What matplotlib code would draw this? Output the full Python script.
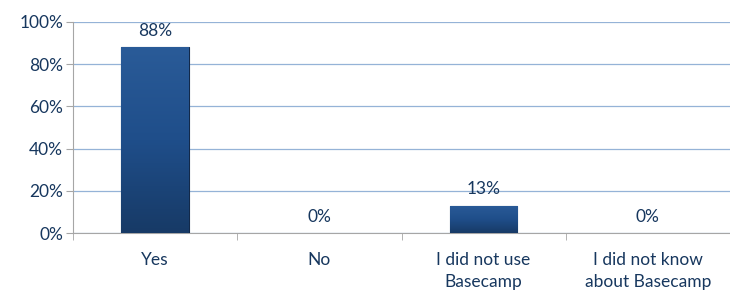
import numpy as np
import matplotlib.pyplot as plt

categories = ["Yes", "No", "I did not use\nBasecamp", "I did not know\nabout Basecamp"]
values = [0.88, 0.0, 0.13, 0.0]
labels = ["88%", "0%", "13%", "0%"]
yticks = [0, 0.2, 0.4, 0.6, 0.8, 1.0]
yticklabels = ["0%", "20%", "40%", "60%", "80%", "100%"]

text_color = "#17375E"
grid_color = "#95B3D7"
axis_color = "#A6A6A6"

plt.rcParams['font.family'] = ['Lato', 'DejaVu Sans']

fig = plt.figure(figsize=(7.3, 2.91), dpi=100)
ax = fig.add_axes([0.1, 0.1993, 0.9, 0.7251])

x = np.arange(len(categories))
bars = ax.bar(x, values, width=0.41, color="#1F4E86", edgecolor="#12294A", linewidth=0.8, zorder=3)

# simple vertical gradient inside each bar
grad = np.linspace(0, 1, 256).reshape(-1, 1)
cmap = plt.matplotlib.colors.LinearSegmentedColormap.from_list("b", ["#173A66", "#1F4E8A", "#2A5B98"])
for b in bars:
    if b.get_height() <= 0:
        b.set_visible(False)
        continue
    im = ax.imshow(grad, cmap=cmap, aspect="auto", origin="lower",
                   extent=[b.get_x(), b.get_x() + b.get_width(), 0, b.get_height()], zorder=3)
    im.set_clip_path(b)

for xi, v, lab in zip(x, values, labels):
    ax.text(xi, v + 0.04, lab, ha="center", va="bottom", fontsize=12.5, color=text_color, zorder=4)

ax.set_xlim(-0.5, len(categories) - 0.5)
ax.set_ylim(0, 1)
ax.set_yticks(yticks)
ax.set_yticklabels(yticklabels, fontsize=12.5, color=text_color)
ax.set_xticks(x)
ax.set_xticklabels(categories, fontsize=12.5, color=text_color, linespacing=1.4)
ax.tick_params(axis="x", length=0, pad=14)
ax.set_xticks(np.arange(len(categories) + 1) - 0.5, minor=True)
ax.tick_params(axis="x", which="minor", length=5, color=axis_color)
ax.tick_params(axis="y", length=5, color=axis_color, pad=2)

ax.grid(axis="y", color=grid_color, linewidth=0.9, zorder=0)
ax.set_axisbelow(True)
for s in ["top", "right"]:
    ax.spines[s].set_visible(False)
ax.spines["left"].set_color(axis_color)
ax.spines["bottom"].set_color(axis_color)

fig.savefig("out.png", dpi=100)
